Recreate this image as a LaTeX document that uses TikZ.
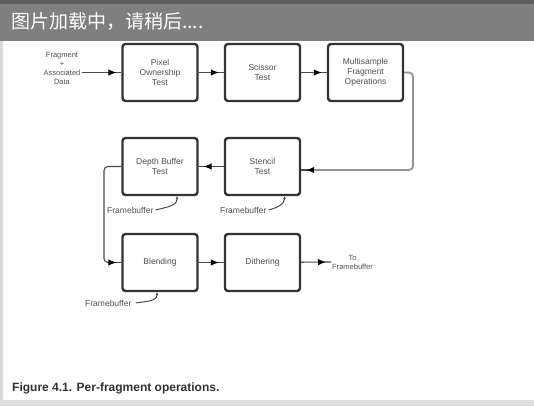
\documentclass[tikz,border=0pt]{standalone}
\usepackage{fontspec}
\setmainfont{Liberation Sans}
\newfontfamily\cjkfont{Noto Sans CJK SC}
\usetikzlibrary{arrows.meta,decorations.markings}
\definecolor{boxline}{HTML}{333333}
\definecolor{conline}{HTML}{4A4A4A}
\definecolor{txtgray}{HTML}{505050}
\definecolor{barmid}{HTML}{7F7F7F}
\definecolor{bartop}{HTML}{5C5C5C}
\tikzset{
  opbox/.style={draw=boxline, line width=2.4pt, rounded corners=3pt, fill=white,
    minimum width=75pt, minimum height=57pt, align=center, text=txtgray,
    font=\fontsize{8.5}{10}\selectfont, inner sep=1pt},
  conn/.style={draw=conline, line width=1.1pt, postaction={decorate},
    decoration={markings, mark=at position -5pt with {\arrow[black]{Latex[length=8pt,width=6.5pt]}}}},
  loopline/.style={draw=gray!85, line width=1.8pt, rounded corners=4pt},
  fblabel/.style={text=txtgray, font=\fontsize{8.5}{10}\selectfont, inner sep=1pt},
  fbline/.style={draw=conline, line width=1pt},
  sidetext/.style={text=txtgray, align=center, font=\fontsize{7.5}{9}\selectfont, inner sep=1pt}
}
\begin{document}
\begin{tikzpicture}[x=1pt,y=-1pt]
\useasboundingbox (0,0) rectangle (534,406);
\fill[white] (0,0) rectangle (534,406);
% frame remnants
\fill[gray!25] (0,400) rectangle (534,406);
\fill[gray!30] (0,41) rectangle (3,400);
% header bar
\fill[barmid] (0,0) rectangle (534,41);
\fill[bartop] (0,0) rectangle (534,4);
\node[anchor=west, text=white, font=\cjkfont\fontsize{19}{21}\selectfont, inner sep=0pt] (hdr) at (11,22) {图片加载中，请稍后....};

% boxes row 1
\node[opbox] (b1) at (160,72.5) {Pixel\\Ownership\\Test};
\node[opbox] (b2) at (262.5,72.5) {Scissor\\Test};
\node[opbox] (b3) at (365.5,72.5) {Multisample\\Fragment\\Operations};
% row 2
\node[opbox] (b4) at (160,166.5) {Depth Buffer\\Test};
\node[opbox] (b5) at (262.5,166.5) {Stencil\\Test};
% row 3
\node[opbox] (b6) at (160,262.5) {Blending};
\node[opbox] (b7) at (262.5,262.5) {Dithering};

% input and output text
\node[sidetext] (inp) at (62,68) {Fragment\\+\\Associated\\Data};
\node[sidetext, anchor=west] (outp) at (331,262) {To\\Framebuffer};

% connectors
\draw[conn] (inp.east |- b1.west) -- (b1.west);
\draw[conn] (b1) -- (b2);
\draw[conn] (b2) -- (b3);
\coordinate (lp1) at (413,72.5);
\coordinate (lp2) at (413,170);
\draw[loopline] (b3.east) -- (lp1) -- (lp2) -- (b5.east |- lp2);
\draw[conn] ([xshift=7pt]b5.east |- lp2) -- (b5.east |- lp2);
\draw[conn] (b5) -- (b4);
\coordinate (dl) at (104,166.5);
\draw[draw=conline, line width=1.1pt, rounded corners=4pt] (b4.west) -- (dl) -- (dl |- b6.west) -- ([xshift=-8pt]b6.west);
\draw[conn] ([xshift=-10pt]b6.west) -- (b6.west);
\draw[conn] (b6) -- (b7);
\draw[conn] (b7) -- (outp.west);

% framebuffer labels
\node[fblabel, anchor=west] (f1) at (106,210) {Framebuffer};
\node[fblabel, anchor=west] (f2) at (219,210) {Framebuffer};
\node[fblabel, anchor=west] (f3) at (84,303) {Framebuffer};
\draw[fbline, -{Latex[length=3pt,width=3pt]}] ([xshift=1pt]f1.east) to[out=15,in=-90] ([xshift=17pt]b4.south);
\draw[fbline, -{Latex[length=3pt,width=3pt]}] ([xshift=1pt]f2.east) to[out=15,in=-90] ([xshift=22pt]b5.south);
\draw[fbline, -{Latex[length=3pt,width=3pt]}] ([xshift=3pt]f3.east) to[out=10,in=-90] ([xshift=-3pt]b6.south);

% caption
\node[anchor=west, text=boxline, font=\bfseries\fontsize{12}{14}\selectfont, inner sep=0pt] (cap) at (12,388) {Figure 4.1. Per-fragment operations.};
\end{tikzpicture}
\end{document}
